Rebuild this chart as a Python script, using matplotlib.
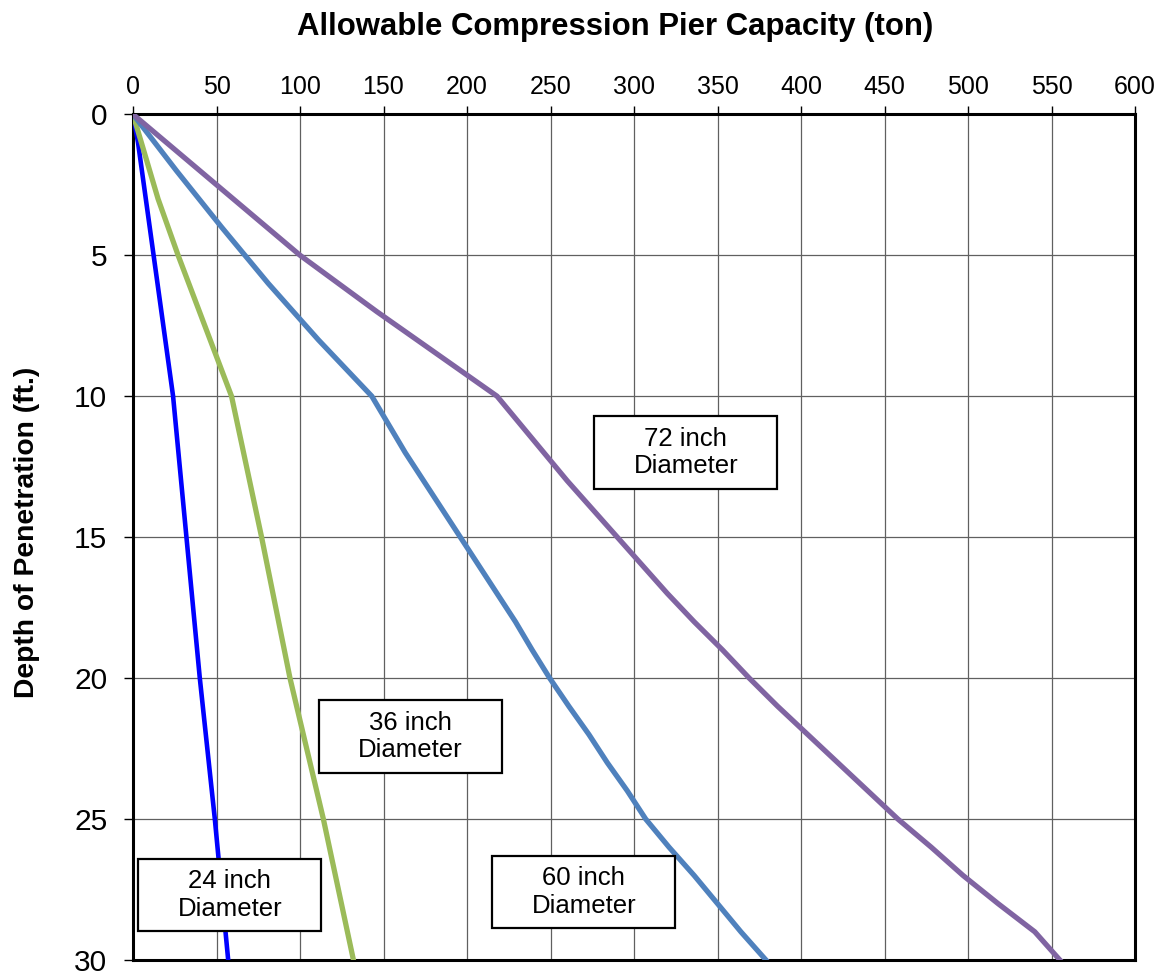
import numpy as np
import matplotlib
matplotlib.use('Agg')
import matplotlib.pyplot as plt
from matplotlib.patches import Rectangle

plt.rcParams['font.family'] = ['Liberation Sans', 'DejaVu Sans']

# datos
depth_24 = [0, 1, 10, 20, 25, 30]
cap_24 = [0, 3, 24, 40, 49, 57]

depth_36 = [0, 3, 5, 10, 15, 20, 25, 30]
cap_36 = [0, 15, 27, 59, 77, 94, 114, 132]

depth_60 = list(range(0, 31))
cap_60 = [0, 13, 26, 39.5, 53, 67, 81, 96, 111, 127,
          143, 153, 163, 174, 185, 196, 207, 218, 229, 239,
          249.5, 261, 273, 284, 296, 307, 321, 336, 350, 364, 379]

depth_72 = list(range(0, 31))
cap_72 = [0, 20, 40, 60, 80, 100, 123, 146, 170, 194,
          218, 232, 246, 260, 275, 290, 305, 320, 336, 353,
          369, 386, 404, 422, 440, 458, 478, 497, 518, 540, 555]

labels = ['24 inch\nDiameter', '36 inch\nDiameter', '60 inch\nDiameter', '72 inch\nDiameter']
label_pos = [(58, 27.7), (166, 22.07), (270, 27.58), (331, 12.0)]
colors = ['#0000FF', '#9BBB59', '#4F81BD', '#8064A2']

fig = plt.figure(figsize=(11.62, 9.72), dpi=100)
ax = fig.add_axes([133 / 1162, 1 - 960 / 972, (1135 - 133) / 1162, (960 - 114.3) / 972])

ax.plot(cap_24, depth_24, color=colors[0], lw=3.3, zorder=3)
ax.plot(cap_36, depth_36, color=colors[1], lw=3.8, zorder=3)
ax.plot(cap_60, depth_60, color=colors[2], lw=3.8, zorder=3)
ax.plot(cap_72, depth_72, color=colors[3], lw=3.8, zorder=3)

# cajas de etiquetas
bw, bh = 109.6, 2.57
for txt, (x, y) in zip(labels, label_pos):
    ax.add_patch(Rectangle((x - bw / 2, y - bh / 2), bw, bh, fc='white', ec='black',
                           lw=1.6, zorder=4))
    ax.text(x, y, txt, ha='center', va='center', fontsize=18.5, zorder=5,
            linespacing=1.2)

ax.set_xlim(0, 600)
ax.set_ylim(30, 0)
ax.set_xticks(np.arange(0, 601, 50))
ax.set_yticks(np.arange(0, 31, 5))
ax.xaxis.tick_top()
ax.tick_params(axis='x', labelsize=18, length=6, width=1, pad=5, direction='out')
ax.tick_params(axis='y', labelsize=21.5, length=6.5, width=1, pad=12, direction='out')
ax.grid(True, color='#606060', lw=0.9)
ax.set_axisbelow(True)
for s in ax.spines.values():
    s.set_linewidth(2.2)

fig.text(615 / 1162, 1 - 35 / 972, 'Allowable Compression Pier Capacity (ton)',
         ha='center', va='baseline', fontsize=22.4, fontweight='bold')
fig.text(27.5 / 1162, 1 - 532 / 972, 'Depth of Penetration (ft.)',
         ha='center', va='center', rotation=90, fontsize=20.3, fontweight='bold')

fig.savefig('out.png', dpi=100)
